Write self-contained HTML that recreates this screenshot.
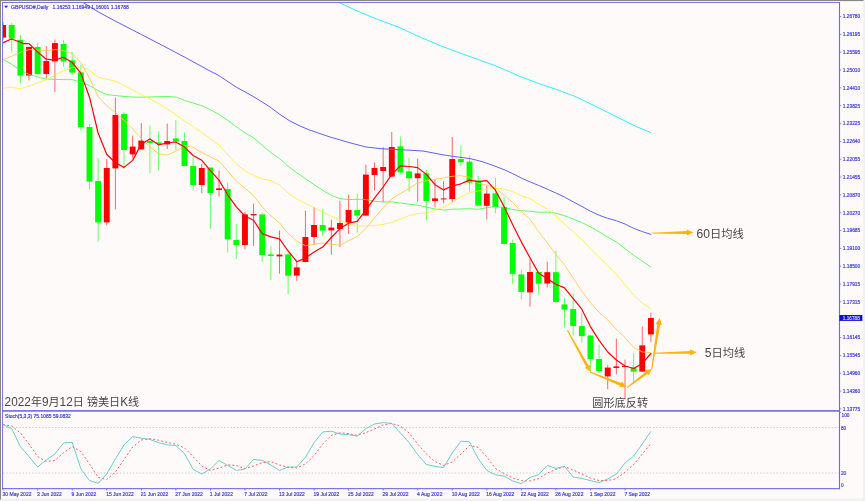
<!DOCTYPE html>
<html lang="zh"><head><meta charset="utf-8"><title>GBPUSD Daily</title>
<style>html,body{margin:0;padding:0;background:#fffafa;overflow:hidden}svg{display:block}text{font-family:"Liberation Sans","Noto Sans CJK SC",sans-serif}.ax{font-size:6px;fill:#3d3ddc;stroke:#3d3ddc;stroke-width:0.22px}.cn{font-size:12px}</style></head><body>
<svg width="865" height="501" viewBox="0 0 865 501">
<rect width="865" height="501" fill="#fffafa"/>
<rect x="0" y="0" width="863.6" height="1.3" fill="#868686"/>
<rect x="0" y="0" width="1.15" height="499.6" fill="#868686"/>
<rect x="1.15" y="498.6" width="864" height="2.4" fill="#f0f0f0"/>
<rect x="863.2" y="1" width="1.8" height="500" fill="#f0f0f0"/>
<rect x="1.15" y="1.3" width="862" height="0.6" fill="#ffffff"/>
<rect x="1.15" y="1.3" width="0.7" height="497.6" fill="#ffffff"/>
<defs><clipPath id="cm"><rect x="3" y="3" width="836" height="407"/></clipPath><clipPath id="cs"><rect x="3" y="412" width="836" height="76"/></clipPath></defs>
<g clip-path="url(#cm)" fill="none" stroke-linejoin="round" stroke-linecap="round">
<line x1="3.10" y1="22.4" x2="3.10" y2="39.5" stroke="#ff0000" stroke-width="0.6"/>
<rect x="0.15" y="25.0" width="5.9" height="12.6" fill="#ff0000"/>
<line x1="11.74" y1="23.0" x2="11.74" y2="52.0" stroke="#00ff00" stroke-width="0.6"/>
<rect x="8.79" y="25.0" width="5.9" height="13.6" fill="#00ff00"/>
<line x1="20.38" y1="35.4" x2="20.38" y2="83.0" stroke="#00ff00" stroke-width="0.6"/>
<rect x="17.43" y="40.0" width="5.9" height="35.6" fill="#00ff00"/>
<line x1="29.01" y1="47.0" x2="29.01" y2="80.0" stroke="#ff0000" stroke-width="0.6"/>
<rect x="26.06" y="47.0" width="5.9" height="28.6" fill="#ff0000"/>
<line x1="37.65" y1="43.0" x2="37.65" y2="74.0" stroke="#00ff00" stroke-width="0.6"/>
<rect x="34.70" y="47.0" width="5.9" height="27.0" fill="#00ff00"/>
<line x1="46.29" y1="46.4" x2="46.29" y2="78.0" stroke="#ff0000" stroke-width="0.6"/>
<rect x="43.34" y="61.0" width="5.9" height="13.0" fill="#ff0000"/>
<line x1="54.92" y1="40.0" x2="54.92" y2="91.6" stroke="#ff0000" stroke-width="0.6"/>
<rect x="51.97" y="43.1" width="5.9" height="18.3" fill="#ff0000"/>
<line x1="63.56" y1="40.4" x2="63.56" y2="66.4" stroke="#00ff00" stroke-width="0.6"/>
<rect x="60.61" y="44.0" width="5.9" height="17.6" fill="#00ff00"/>
<line x1="72.20" y1="52.4" x2="72.20" y2="74.4" stroke="#00ff00" stroke-width="0.6"/>
<rect x="69.25" y="60.4" width="5.9" height="12.2" fill="#00ff00"/>
<line x1="80.84" y1="65.0" x2="80.84" y2="130.4" stroke="#00ff00" stroke-width="0.6"/>
<rect x="77.89" y="72.4" width="5.9" height="54.6" fill="#00ff00"/>
<line x1="89.47" y1="124.4" x2="89.47" y2="189.0" stroke="#00ff00" stroke-width="0.6"/>
<rect x="86.52" y="127.0" width="5.9" height="54.6" fill="#00ff00"/>
<line x1="98.11" y1="158.4" x2="98.11" y2="241.6" stroke="#00ff00" stroke-width="0.6"/>
<rect x="95.16" y="181.0" width="5.9" height="41.4" fill="#00ff00"/>
<line x1="106.75" y1="159.6" x2="106.75" y2="225.0" stroke="#ff0000" stroke-width="0.6"/>
<rect x="103.80" y="168.0" width="5.9" height="54.4" fill="#ff0000"/>
<line x1="115.39" y1="98.0" x2="115.39" y2="209.0" stroke="#ff0000" stroke-width="0.6"/>
<rect x="112.44" y="115.0" width="5.9" height="53.4" fill="#ff0000"/>
<line x1="124.02" y1="112.4" x2="124.02" y2="168.4" stroke="#00ff00" stroke-width="0.6"/>
<rect x="121.07" y="114.0" width="5.9" height="36.0" fill="#00ff00"/>
<line x1="132.66" y1="136.0" x2="132.66" y2="158.0" stroke="#ff0000" stroke-width="0.6"/>
<rect x="129.71" y="146.6" width="5.9" height="7.8" fill="#ff0000"/>
<line x1="141.30" y1="123.4" x2="141.30" y2="149.4" stroke="#ff0000" stroke-width="0.6"/>
<rect x="138.35" y="140.6" width="5.9" height="8.8" fill="#ff0000"/>
<line x1="149.94" y1="126.0" x2="149.94" y2="173.0" stroke="#00ff00" stroke-width="0.6"/>
<rect x="146.99" y="141.0" width="5.9" height="2.0" fill="#00ff00"/>
<line x1="158.57" y1="131.6" x2="158.57" y2="170.0" stroke="#00ff00" stroke-width="0.6"/>
<rect x="155.62" y="142.4" width="5.9" height="1.6" fill="#00ff00"/>
<line x1="167.21" y1="124.0" x2="167.21" y2="148.6" stroke="#ff0000" stroke-width="0.6"/>
<rect x="164.26" y="141.0" width="5.9" height="3.4" fill="#ff0000"/>
<line x1="175.85" y1="120.4" x2="175.85" y2="149.6" stroke="#00ff00" stroke-width="0.6"/>
<rect x="172.90" y="138.4" width="5.9" height="3.2" fill="#00ff00"/>
<line x1="184.49" y1="133.0" x2="184.49" y2="166.0" stroke="#00ff00" stroke-width="0.6"/>
<rect x="181.54" y="141.0" width="5.9" height="25.0" fill="#00ff00"/>
<line x1="193.12" y1="157.0" x2="193.12" y2="189.6" stroke="#00ff00" stroke-width="0.6"/>
<rect x="190.17" y="166.0" width="5.9" height="19.0" fill="#00ff00"/>
<line x1="201.76" y1="164.4" x2="201.76" y2="193.0" stroke="#ff0000" stroke-width="0.6"/>
<rect x="198.81" y="168.0" width="5.9" height="17.0" fill="#ff0000"/>
<line x1="210.40" y1="167.6" x2="210.40" y2="228.4" stroke="#00ff00" stroke-width="0.6"/>
<rect x="207.45" y="167.6" width="5.9" height="25.4" fill="#00ff00"/>
<line x1="219.04" y1="171.0" x2="219.04" y2="196.0" stroke="#ff0000" stroke-width="0.6"/>
<rect x="216.09" y="188.4" width="5.9" height="1.6" fill="#ff0000"/>
<line x1="227.67" y1="183.0" x2="227.67" y2="252.2" stroke="#00ff00" stroke-width="0.6"/>
<rect x="224.72" y="189.0" width="5.9" height="50.4" fill="#00ff00"/>
<line x1="236.31" y1="224.4" x2="236.31" y2="258.6" stroke="#00ff00" stroke-width="0.6"/>
<rect x="233.36" y="240.0" width="5.9" height="5.0" fill="#00ff00"/>
<line x1="244.95" y1="212.0" x2="244.95" y2="249.0" stroke="#ff0000" stroke-width="0.6"/>
<rect x="242.00" y="214.4" width="5.9" height="30.6" fill="#ff0000"/>
<line x1="253.59" y1="204.0" x2="253.59" y2="245.6" stroke="#ff0000" stroke-width="0.6"/>
<rect x="250.64" y="214.0" width="5.9" height="1.4" fill="#ff0000"/>
<line x1="262.23" y1="213.0" x2="262.23" y2="261.6" stroke="#00ff00" stroke-width="0.6"/>
<rect x="259.28" y="214.4" width="5.9" height="40.6" fill="#00ff00"/>
<line x1="270.86" y1="246.6" x2="270.86" y2="279.6" stroke="#00ff00" stroke-width="0.6"/>
<rect x="267.91" y="254.4" width="5.9" height="1.6" fill="#00ff00"/>
<line x1="279.50" y1="231.0" x2="279.50" y2="273.3" stroke="#ff0000" stroke-width="0.6"/>
<rect x="276.55" y="254.6" width="5.9" height="1.8" fill="#ff0000"/>
<line x1="288.14" y1="254.0" x2="288.14" y2="294.0" stroke="#00ff00" stroke-width="0.6"/>
<rect x="285.19" y="254.4" width="5.9" height="21.2" fill="#00ff00"/>
<line x1="296.77" y1="262.0" x2="296.77" y2="280.4" stroke="#ff0000" stroke-width="0.6"/>
<rect x="293.82" y="267.4" width="5.9" height="8.2" fill="#ff0000"/>
<line x1="305.41" y1="211.0" x2="305.41" y2="262.0" stroke="#ff0000" stroke-width="0.6"/>
<rect x="302.46" y="237.0" width="5.9" height="25.0" fill="#ff0000"/>
<line x1="314.05" y1="207.4" x2="314.05" y2="244.4" stroke="#ff0000" stroke-width="0.6"/>
<rect x="311.10" y="225.0" width="5.9" height="12.0" fill="#ff0000"/>
<line x1="322.69" y1="209.6" x2="322.69" y2="236.0" stroke="#00ff00" stroke-width="0.6"/>
<rect x="319.74" y="225.0" width="5.9" height="5.6" fill="#00ff00"/>
<line x1="331.32" y1="220.0" x2="331.32" y2="254.4" stroke="#ff0000" stroke-width="0.6"/>
<rect x="328.38" y="227.6" width="5.9" height="2.8" fill="#ff0000"/>
<line x1="339.96" y1="201.5" x2="339.96" y2="246.6" stroke="#ff0000" stroke-width="0.6"/>
<rect x="337.01" y="223.0" width="5.9" height="6.0" fill="#ff0000"/>
<line x1="348.60" y1="195.0" x2="348.60" y2="233.6" stroke="#ff0000" stroke-width="0.6"/>
<rect x="345.65" y="210.0" width="5.9" height="12.6" fill="#ff0000"/>
<line x1="357.24" y1="194.0" x2="357.24" y2="232.4" stroke="#00ff00" stroke-width="0.6"/>
<rect x="354.29" y="210.0" width="5.9" height="5.6" fill="#00ff00"/>
<line x1="365.88" y1="165.0" x2="365.88" y2="215.6" stroke="#ff0000" stroke-width="0.6"/>
<rect x="362.93" y="174.6" width="5.9" height="41.0" fill="#ff0000"/>
<line x1="374.51" y1="163.0" x2="374.51" y2="190.0" stroke="#ff0000" stroke-width="0.6"/>
<rect x="371.56" y="168.0" width="5.9" height="7.0" fill="#ff0000"/>
<line x1="383.15" y1="147.4" x2="383.15" y2="202.0" stroke="#ff0000" stroke-width="0.6"/>
<rect x="380.20" y="167.0" width="5.9" height="4.0" fill="#ff0000"/>
<line x1="391.79" y1="132.4" x2="391.79" y2="176.6" stroke="#ff0000" stroke-width="0.6"/>
<rect x="388.84" y="147.0" width="5.9" height="29.6" fill="#ff0000"/>
<line x1="400.43" y1="137.0" x2="400.43" y2="174.0" stroke="#00ff00" stroke-width="0.6"/>
<rect x="397.48" y="146.4" width="5.9" height="26.0" fill="#00ff00"/>
<line x1="409.06" y1="158.0" x2="409.06" y2="191.0" stroke="#00ff00" stroke-width="0.6"/>
<rect x="406.11" y="171.4" width="5.9" height="6.8" fill="#00ff00"/>
<line x1="417.70" y1="159.0" x2="417.70" y2="201.4" stroke="#ff0000" stroke-width="0.6"/>
<rect x="414.75" y="173.4" width="5.9" height="4.8" fill="#ff0000"/>
<line x1="426.34" y1="170.0" x2="426.34" y2="220.0" stroke="#00ff00" stroke-width="0.6"/>
<rect x="423.39" y="173.4" width="5.9" height="27.6" fill="#00ff00"/>
<line x1="434.97" y1="180.0" x2="434.97" y2="207.0" stroke="#ff0000" stroke-width="0.6"/>
<rect x="432.02" y="198.4" width="5.9" height="2.6" fill="#ff0000"/>
<line x1="443.61" y1="181.6" x2="443.61" y2="203.0" stroke="#ff0000" stroke-width="0.6"/>
<rect x="440.66" y="198.4" width="5.9" height="1.0" fill="#ff0000"/>
<line x1="452.25" y1="137.4" x2="452.25" y2="202.0" stroke="#ff0000" stroke-width="0.6"/>
<rect x="449.30" y="159.0" width="5.9" height="40.0" fill="#ff0000"/>
<line x1="460.89" y1="146.0" x2="460.89" y2="166.0" stroke="#00ff00" stroke-width="0.6"/>
<rect x="457.94" y="159.0" width="5.9" height="3.2" fill="#00ff00"/>
<line x1="469.52" y1="156.0" x2="469.52" y2="191.0" stroke="#00ff00" stroke-width="0.6"/>
<rect x="466.57" y="161.6" width="5.9" height="21.0" fill="#00ff00"/>
<line x1="478.16" y1="176.4" x2="478.16" y2="205.6" stroke="#00ff00" stroke-width="0.6"/>
<rect x="475.21" y="180.6" width="5.9" height="25.0" fill="#00ff00"/>
<line x1="486.80" y1="186.0" x2="486.80" y2="219.0" stroke="#ff0000" stroke-width="0.6"/>
<rect x="483.85" y="193.6" width="5.9" height="12.2" fill="#ff0000"/>
<line x1="495.44" y1="178.0" x2="495.44" y2="213.0" stroke="#00ff00" stroke-width="0.6"/>
<rect x="492.49" y="193.4" width="5.9" height="13.8" fill="#00ff00"/>
<line x1="504.07" y1="197.6" x2="504.07" y2="245.0" stroke="#00ff00" stroke-width="0.6"/>
<rect x="501.12" y="207.0" width="5.9" height="37.0" fill="#00ff00"/>
<line x1="512.71" y1="240.0" x2="512.71" y2="284.0" stroke="#00ff00" stroke-width="0.6"/>
<rect x="509.76" y="243.0" width="5.9" height="30.8" fill="#00ff00"/>
<line x1="521.35" y1="270.0" x2="521.35" y2="299.0" stroke="#00ff00" stroke-width="0.6"/>
<rect x="518.40" y="274.4" width="5.9" height="17.6" fill="#00ff00"/>
<line x1="529.99" y1="259.0" x2="529.99" y2="306.4" stroke="#ff0000" stroke-width="0.6"/>
<rect x="527.04" y="272.0" width="5.9" height="20.4" fill="#ff0000"/>
<line x1="538.62" y1="272.0" x2="538.62" y2="294.4" stroke="#00ff00" stroke-width="0.6"/>
<rect x="535.67" y="272.0" width="5.9" height="11.5" fill="#00ff00"/>
<line x1="547.26" y1="262.0" x2="547.26" y2="287.0" stroke="#ff0000" stroke-width="0.6"/>
<rect x="544.31" y="272.2" width="5.9" height="11.3" fill="#ff0000"/>
<line x1="555.90" y1="251.0" x2="555.90" y2="302.0" stroke="#00ff00" stroke-width="0.6"/>
<rect x="552.95" y="272.2" width="5.9" height="29.8" fill="#00ff00"/>
<line x1="564.54" y1="298.4" x2="564.54" y2="327.0" stroke="#00ff00" stroke-width="0.6"/>
<rect x="561.59" y="304.4" width="5.9" height="5.2" fill="#00ff00"/>
<line x1="573.17" y1="293.6" x2="573.17" y2="335.0" stroke="#00ff00" stroke-width="0.6"/>
<rect x="570.22" y="309.0" width="5.9" height="17.0" fill="#00ff00"/>
<line x1="581.81" y1="314.0" x2="581.81" y2="342.4" stroke="#00ff00" stroke-width="0.6"/>
<rect x="578.86" y="326.0" width="5.9" height="10.2" fill="#00ff00"/>
<line x1="590.45" y1="335.0" x2="590.45" y2="373.0" stroke="#00ff00" stroke-width="0.6"/>
<rect x="587.50" y="335.5" width="5.9" height="23.5" fill="#00ff00"/>
<line x1="599.09" y1="345.0" x2="599.09" y2="373.0" stroke="#00ff00" stroke-width="0.6"/>
<rect x="596.14" y="359.0" width="5.9" height="12.0" fill="#00ff00"/>
<line x1="607.73" y1="365.6" x2="607.73" y2="389.0" stroke="#ff0000" stroke-width="0.6"/>
<rect x="604.77" y="367.6" width="5.9" height="8.8" fill="#ff0000"/>
<line x1="616.36" y1="339.0" x2="616.36" y2="374.0" stroke="#ff0000" stroke-width="0.6"/>
<rect x="613.41" y="366.4" width="5.9" height="1.6" fill="#ff0000"/>
<line x1="625.00" y1="360.0" x2="625.00" y2="399.0" stroke="#ff0000" stroke-width="0.6"/>
<rect x="622.05" y="366.0" width="5.9" height="1.0" fill="#ff0000"/>
<line x1="633.64" y1="353.3" x2="633.64" y2="383.6" stroke="#00ff00" stroke-width="0.6"/>
<rect x="630.69" y="367.4" width="5.9" height="4.2" fill="#00ff00"/>
<line x1="642.27" y1="327.0" x2="642.27" y2="371.6" stroke="#ff0000" stroke-width="0.6"/>
<rect x="639.32" y="345.4" width="5.9" height="26.2" fill="#ff0000"/>
<line x1="650.91" y1="313.0" x2="650.91" y2="342.0" stroke="#ff0000" stroke-width="0.6"/>
<rect x="647.96" y="318.0" width="5.9" height="16.4" fill="#ff0000"/>
<polyline points="339.0,2.6 356.0,10.4 374.0,18.0 398.0,27.0 420.0,37.0 442.0,46.4 470.0,56.6 495.0,65.6 503.0,69.0 519.0,76.0 539.0,83.6 555.0,89.0 575.0,96.4 595.0,106.0 615.0,116.0 635.0,126.0 650.6,132.4" stroke="#30eeff" stroke-width="1"/>
<polyline points="83.0,2.5 95.0,10.0 104.0,15.0 115.2,21.0 124.0,25.6 132.6,30.0 141.2,34.4 150.0,39.0 170.0,49.4 190.0,60.0 210.0,71.0 218.0,75.0 236.0,87.0 250.0,94.6 259.0,100.0 270.0,107.0 280.0,114.5 290.0,121.0 300.0,126.0 310.0,130.2 330.0,137.0 350.0,142.8 366.0,147.0 382.0,148.8 402.0,149.8 423.0,151.0 444.0,155.0 460.0,157.3 470.0,158.6 480.0,161.0 492.0,165.0 504.0,169.6 512.7,173.6 521.4,178.1 530.0,181.9 538.6,185.4 547.3,189.2 555.9,193.0 564.5,197.1 573.2,201.8 581.8,206.4 590.4,211.2 599.1,215.2 607.7,218.3 616.4,220.7 625.0,224.0 633.6,228.3 642.3,231.6 650.9,234.4" stroke="#6060fa" stroke-width="1"/>
<polyline points="2.4,59.0 11.4,64.0 20.0,70.0 29.0,74.4 37.6,77.0 46.4,79.0 55.0,79.4 63.4,79.6 72.0,79.6 80.8,82.0 89.4,85.6 98.0,90.5 106.6,94.6 115.2,95.5 124.0,96.4 132.6,97.0 141.2,97.2 150.0,97.0 158.6,96.7 167.2,96.5 176.0,97.0 184.6,100.4 193.2,103.0 202.0,105.8 210.6,109.8 219.2,114.5 228.0,120.5 236.6,127.0 245.2,133.0 253.6,137.8 262.2,145.4 270.9,152.7 279.5,158.6 288.1,166.3 296.8,172.7 305.4,178.6 314.1,184.6 322.7,190.3 331.3,195.4 340.0,198.6 348.6,199.6 357.2,199.3 365.9,199.6 374.5,201.3 383.1,201.9 391.8,201.9 400.4,203.0 409.1,204.1 417.7,205.1 426.3,207.1 435.0,209.0 443.6,210.1 452.2,209.2 460.9,209.0 469.5,208.7 478.2,209.3 486.8,207.7 495.4,206.5 504.1,207.5 512.7,209.5 521.4,210.7 530.0,211.2 538.6,212.2 547.3,212.1 555.9,213.2 564.5,215.7 573.2,219.0 581.8,222.5 590.4,226.9 599.1,231.8 607.7,237.1 616.4,242.1 625.0,248.5 633.6,255.3 642.3,261.2 650.9,266.9" stroke="#48fa48" stroke-width="0.85"/>
<polyline points="2.4,88.4 11.4,87.0 20.0,89.0 29.0,86.0 37.6,83.0 46.4,79.6 55.0,75.0 63.4,71.0 72.0,67.4 80.8,67.0 89.4,70.0 98.0,77.2 106.6,79.2 115.2,81.0 124.0,85.3 132.6,90.0 141.2,94.6 150.0,98.7 158.6,103.5 167.2,108.9 175.8,114.7 184.5,121.1 193.1,126.6 201.8,132.6 210.4,138.6 219.0,144.9 227.7,154.7 236.3,163.9 244.9,171.0 253.6,175.3 262.2,179.0 270.9,180.7 279.5,185.0 288.1,193.1 296.8,198.9 305.4,203.4 314.1,207.7 322.7,212.1 331.3,216.2 340.0,220.3 348.6,223.8 357.2,226.2 365.9,225.7 374.5,225.7 383.1,224.4 391.8,222.3 400.4,219.0 409.1,215.7 417.7,213.6 426.3,212.9 435.0,210.1 443.6,207.2 452.2,202.5 460.9,196.8 469.5,192.5 478.2,191.0 486.8,189.4 495.4,188.2 504.1,189.1 512.7,191.6 521.4,195.7 530.0,198.5 538.6,204.0 547.3,209.2 555.9,215.9 564.5,224.1 573.2,231.7 581.8,239.6 590.4,248.9 599.1,257.4 607.7,265.9 616.4,274.3 625.0,284.6 633.6,295.1 642.3,303.2 650.9,308.9" stroke="#fff030" stroke-width="0.85"/>
<polyline points="2.4,60.0 11.4,56.4 20.0,52.4 29.0,49.6 37.6,50.0 46.4,50.6 55.0,49.6 63.4,50.6 72.0,53.6 80.8,62.5 89.5,78.2 98.1,96.6 106.7,105.8 115.4,112.6 124.0,120.2 132.7,128.8 141.3,138.5 149.9,146.7 158.6,153.8 167.2,155.2 175.8,151.2 184.5,145.6 193.1,147.3 201.8,152.6 210.4,156.9 219.0,161.1 227.7,170.9 236.3,181.1 244.9,188.2 253.6,195.5 262.2,206.8 270.9,215.8 279.5,222.8 288.1,233.5 296.8,241.0 305.4,245.8 314.1,244.4 322.7,243.0 331.3,244.3 340.0,245.2 348.6,240.7 357.2,236.6 365.9,228.6 374.5,217.9 383.1,207.8 391.8,198.8 400.4,193.6 409.1,188.3 417.7,182.9 426.3,180.7 435.0,179.6 443.6,177.8 452.2,176.3 460.9,175.7 469.5,177.3 478.2,183.1 486.8,185.2 495.4,188.1 504.1,195.2 512.7,202.5 521.4,211.8 530.0,219.2 538.6,231.7 547.3,242.7 555.9,254.6 564.5,265.0 573.2,278.2 581.8,291.1 590.4,302.6 599.1,312.4 607.7,319.9 616.4,329.4 625.0,337.6 633.6,347.5 642.3,351.9 650.9,352.7" stroke="#ffca40" stroke-width="0.85"/>
<polyline points="2.4,43.0 11.4,39.0 20.0,42.0 23.6,43.6 29.0,43.6 37.6,52.0 46.3,59.2 54.9,60.1 63.6,57.3 72.2,62.5 80.8,73.1 89.5,97.2 98.1,133.0 106.7,154.3 115.4,162.8 124.0,167.4 132.7,160.4 141.3,144.0 149.9,139.0 158.6,144.8 167.2,143.0 175.8,142.0 184.5,147.1 193.1,155.5 201.8,160.3 210.4,170.7 219.0,180.1 227.7,194.8 236.3,206.8 244.9,216.0 253.6,220.2 262.2,233.6 270.9,236.9 279.5,238.8 288.1,251.0 296.8,261.7 305.4,258.1 314.1,251.9 322.7,247.1 331.3,237.5 340.0,228.6 348.6,223.2 357.2,221.4 365.9,210.2 374.5,198.2 383.1,187.0 391.8,174.4 400.4,165.8 409.1,166.5 417.7,167.6 426.3,174.4 435.0,184.7 443.6,189.9 452.2,186.0 460.9,183.8 469.5,180.1 478.2,181.6 486.8,180.6 495.4,190.2 504.1,206.6 512.7,224.8 521.4,242.1 530.0,257.8 538.6,273.1 547.3,278.7 555.9,284.3 564.5,287.9 573.2,298.7 581.8,309.2 590.4,326.6 599.1,340.4 607.7,352.0 616.4,360.0 625.0,366.0 633.6,368.5 642.3,363.4 650.9,353.5" stroke="#ff0000" stroke-width="1.2"/>
</g>
<g fill="none">
<line x1="3" y1="427.5" x2="839" y2="427.5" stroke="#c0c0c0" stroke-width="0.8" stroke-dasharray="1.4,1.85"/>
<line x1="3" y1="473" x2="839" y2="473" stroke="#c0c0c0" stroke-width="0.8" stroke-dasharray="1.4,1.85"/>
</g>
<g clip-path="url(#cs)" fill="none" stroke-linejoin="round">
<polyline points="3.1,424.6 11.7,426.0 20.4,433.0 29.0,444.0 37.6,456.6 46.3,461.4 54.9,460.4 63.6,452.6 72.2,446.6 80.8,451.4 89.5,464.0 98.1,477.4 106.7,479.6 115.4,472.0 124.0,459.4 132.7,447.0 141.3,440.0 149.9,438.6 158.6,440.2 167.2,442.4 175.8,444.2 184.5,448.0 193.1,456.6 201.8,466.0 210.4,470.6 219.0,468.0 227.7,465.0 236.3,465.4 244.9,468.6 253.6,466.0 262.2,462.6 270.9,461.6 279.5,465.0 288.1,467.4 296.8,468.0 305.4,464.0 314.1,455.6 322.7,444.0 331.3,435.4 340.0,432.8 348.6,433.6 357.2,435.4 365.9,432.6 374.5,429.0 383.1,425.0 391.8,423.4 400.4,426.2 409.1,433.0 417.7,444.0 426.3,454.0 435.0,461.6 443.6,465.4 452.2,462.0 460.9,454.0 469.5,445.6 478.2,447.4 486.8,457.0 495.4,468.3 504.1,473.6 512.7,478.0 521.4,480.6 530.0,481.0 538.6,478.6 547.3,473.0 555.9,469.4 564.5,466.6 573.2,470.0 581.8,474.0 590.4,478.0 599.1,480.6 607.7,480.6 616.4,478.6 625.0,472.0 633.6,464.6 642.3,454.0 650.9,443.6" stroke="#ff4545" stroke-width="0.9" stroke-dasharray="1.9,2.2"/>
<polyline points="3.1,424.6 11.7,428.6 20.4,446.6 29.0,456.6 37.6,467.0 46.3,460.0 54.9,454.0 63.6,443.0 72.2,442.2 80.8,468.6 89.5,480.6 98.1,483.4 106.7,474.0 115.4,459.0 124.0,445.0 132.7,436.6 141.3,438.2 149.9,439.4 158.6,442.6 167.2,444.8 175.8,445.6 184.5,453.6 193.1,469.4 201.8,474.0 210.4,469.0 219.0,460.6 227.7,465.4 236.3,470.4 244.9,469.0 253.6,459.4 262.2,460.4 270.9,465.0 279.5,470.4 288.1,467.0 296.8,467.0 305.4,457.4 314.1,442.6 322.7,432.0 331.3,431.2 340.0,434.0 348.6,434.6 357.2,436.2 365.9,428.6 374.5,424.0 383.1,422.6 391.8,423.4 400.4,433.0 409.1,442.6 417.7,454.6 426.3,464.4 435.0,466.4 443.6,467.6 452.2,453.0 460.9,441.2 469.5,441.8 478.2,458.6 486.8,470.4 495.4,474.8 504.1,476.0 512.7,481.0 521.4,483.6 530.0,477.4 538.6,474.6 547.3,465.4 555.9,468.4 564.5,466.4 573.2,477.0 581.8,478.4 590.4,480.6 599.1,482.6 607.7,479.0 616.4,474.0 625.0,463.0 633.6,456.0 642.3,444.0 650.9,431.4" stroke="#50c4bc" stroke-width="0.85"/>
</g>
<g fill="#6a6ae6">
<rect x="2.1" y="2.1" width="837.7" height="0.9"/>
<rect x="2.1" y="2.1" width="0.9" height="487"/>
<rect x="838.95" y="2.1" width="1.1" height="487"/>
<rect x="2.1" y="488.1" width="837.8" height="1.1"/>
<rect x="2.1" y="410.1" width="837.8" height="1.6"/>
</g>
<rect x="839.8" y="16.10" width="1.4" height="0.8" fill="#6a6ae6"/>
<text class="ax" x="842.75" y="18.35" textLength="17.50" lengthAdjust="spacingAndGlyphs" xml:space="preserve">1.26780</text>
<rect x="839.8" y="33.94" width="1.4" height="0.8" fill="#6a6ae6"/>
<text class="ax" x="842.75" y="36.19" textLength="17.50" lengthAdjust="spacingAndGlyphs" xml:space="preserve">1.26195</text>
<rect x="839.8" y="51.77" width="1.4" height="0.8" fill="#6a6ae6"/>
<text class="ax" x="842.75" y="54.02" textLength="17.50" lengthAdjust="spacingAndGlyphs" xml:space="preserve">1.25595</text>
<rect x="839.8" y="69.61" width="1.4" height="0.8" fill="#6a6ae6"/>
<text class="ax" x="842.75" y="71.86" textLength="17.50" lengthAdjust="spacingAndGlyphs" xml:space="preserve">1.25010</text>
<rect x="839.8" y="87.45" width="1.4" height="0.8" fill="#6a6ae6"/>
<text class="ax" x="842.75" y="89.70" textLength="17.50" lengthAdjust="spacingAndGlyphs" xml:space="preserve">1.24410</text>
<rect x="839.8" y="105.28" width="1.4" height="0.8" fill="#6a6ae6"/>
<text class="ax" x="842.75" y="107.53" textLength="17.50" lengthAdjust="spacingAndGlyphs" xml:space="preserve">1.23825</text>
<rect x="839.8" y="123.12" width="1.4" height="0.8" fill="#6a6ae6"/>
<text class="ax" x="842.75" y="125.37" textLength="17.50" lengthAdjust="spacingAndGlyphs" xml:space="preserve">1.23225</text>
<rect x="839.8" y="140.95" width="1.4" height="0.8" fill="#6a6ae6"/>
<text class="ax" x="842.75" y="143.20" textLength="17.50" lengthAdjust="spacingAndGlyphs" xml:space="preserve">1.22640</text>
<rect x="839.8" y="158.79" width="1.4" height="0.8" fill="#6a6ae6"/>
<text class="ax" x="842.75" y="161.04" textLength="17.50" lengthAdjust="spacingAndGlyphs" xml:space="preserve">1.22055</text>
<rect x="839.8" y="176.63" width="1.4" height="0.8" fill="#6a6ae6"/>
<text class="ax" x="842.75" y="178.88" textLength="17.50" lengthAdjust="spacingAndGlyphs" xml:space="preserve">1.21455</text>
<rect x="839.8" y="194.46" width="1.4" height="0.8" fill="#6a6ae6"/>
<text class="ax" x="842.75" y="196.71" textLength="17.50" lengthAdjust="spacingAndGlyphs" xml:space="preserve">1.20870</text>
<rect x="839.8" y="212.30" width="1.4" height="0.8" fill="#6a6ae6"/>
<text class="ax" x="842.75" y="214.55" textLength="17.50" lengthAdjust="spacingAndGlyphs" xml:space="preserve">1.20270</text>
<rect x="839.8" y="230.14" width="1.4" height="0.8" fill="#6a6ae6"/>
<text class="ax" x="842.75" y="232.39" textLength="17.50" lengthAdjust="spacingAndGlyphs" xml:space="preserve">1.19685</text>
<rect x="839.8" y="247.97" width="1.4" height="0.8" fill="#6a6ae6"/>
<text class="ax" x="842.75" y="250.22" textLength="17.50" lengthAdjust="spacingAndGlyphs" xml:space="preserve">1.19100</text>
<rect x="839.8" y="265.81" width="1.4" height="0.8" fill="#6a6ae6"/>
<text class="ax" x="842.75" y="268.06" textLength="17.50" lengthAdjust="spacingAndGlyphs" xml:space="preserve">1.18500</text>
<rect x="839.8" y="283.65" width="1.4" height="0.8" fill="#6a6ae6"/>
<text class="ax" x="842.75" y="285.90" textLength="17.50" lengthAdjust="spacingAndGlyphs" xml:space="preserve">1.17915</text>
<rect x="839.8" y="301.48" width="1.4" height="0.8" fill="#6a6ae6"/>
<text class="ax" x="842.75" y="303.73" textLength="17.50" lengthAdjust="spacingAndGlyphs" xml:space="preserve">1.17315</text>
<rect x="839.8" y="337.15" width="1.4" height="0.8" fill="#6a6ae6"/>
<text class="ax" x="842.75" y="339.40" textLength="17.50" lengthAdjust="spacingAndGlyphs" xml:space="preserve">1.16145</text>
<rect x="839.8" y="354.99" width="1.4" height="0.8" fill="#6a6ae6"/>
<text class="ax" x="842.75" y="357.24" textLength="17.50" lengthAdjust="spacingAndGlyphs" xml:space="preserve">1.15545</text>
<rect x="839.8" y="372.83" width="1.4" height="0.8" fill="#6a6ae6"/>
<text class="ax" x="842.75" y="375.08" textLength="17.50" lengthAdjust="spacingAndGlyphs" xml:space="preserve">1.14960</text>
<rect x="839.8" y="390.66" width="1.4" height="0.8" fill="#6a6ae6"/>
<text class="ax" x="842.75" y="392.91" textLength="17.50" lengthAdjust="spacingAndGlyphs" xml:space="preserve">1.14360</text>
<rect x="839.8" y="408.50" width="1.4" height="0.8" fill="#6a6ae6"/>
<text class="ax" x="842.75" y="410.75" textLength="17.50" lengthAdjust="spacingAndGlyphs" xml:space="preserve">1.13775</text>
<rect x="839.4" y="315.0" width="23.0" height="5.9" fill="#1010d2"/>
<text class="ax" x="842.80" y="320.10" textLength="17.00" lengthAdjust="spacingAndGlyphs" xml:space="preserve" style="fill:#e6e6ff;stroke:#e6e6ff;stroke-width:0.1px">1.16788</text>
<rect x="839.8" y="412.2" width="1.2" height="0.8" fill="#6a6ae6"/>
<text class="ax" x="841.50" y="417.40" textLength="8.00" lengthAdjust="spacingAndGlyphs" xml:space="preserve">100</text>
<text class="ax" x="840.90" y="429.80" textLength="5.30" lengthAdjust="spacingAndGlyphs" xml:space="preserve">80</text>
<text class="ax" x="840.90" y="474.90" textLength="5.30" lengthAdjust="spacingAndGlyphs" xml:space="preserve">20</text>
<text class="ax" x="840.90" y="487.20" textLength="2.60" lengthAdjust="spacingAndGlyphs" xml:space="preserve">0</text>
<rect x="2.65" y="489" width="0.9" height="1.5" fill="#6a6ae6"/>
<text class="ax" x="2.50" y="495.75" textLength="28.98" lengthAdjust="spacingAndGlyphs" xml:space="preserve">30 May 2022</text>
<rect x="37.20" y="489" width="0.9" height="1.5" fill="#6a6ae6"/>
<text class="ax" x="37.05" y="495.75" textLength="24.80" lengthAdjust="spacingAndGlyphs" xml:space="preserve">3 Jun 2022</text>
<rect x="71.75" y="489" width="0.9" height="1.5" fill="#6a6ae6"/>
<text class="ax" x="71.60" y="495.75" textLength="24.80" lengthAdjust="spacingAndGlyphs" xml:space="preserve">9 Jun 2022</text>
<rect x="106.30" y="489" width="0.9" height="1.5" fill="#6a6ae6"/>
<text class="ax" x="106.15" y="495.75" textLength="27.59" lengthAdjust="spacingAndGlyphs" xml:space="preserve">15 Jun 2022</text>
<rect x="140.85" y="489" width="0.9" height="1.5" fill="#6a6ae6"/>
<text class="ax" x="140.70" y="495.75" textLength="27.59" lengthAdjust="spacingAndGlyphs" xml:space="preserve">21 Jun 2022</text>
<rect x="175.40" y="489" width="0.9" height="1.5" fill="#6a6ae6"/>
<text class="ax" x="175.25" y="495.75" textLength="27.59" lengthAdjust="spacingAndGlyphs" xml:space="preserve">27 Jun 2022</text>
<rect x="209.95" y="489" width="0.9" height="1.5" fill="#6a6ae6"/>
<text class="ax" x="209.80" y="495.75" textLength="23.13" lengthAdjust="spacingAndGlyphs" xml:space="preserve">1 Jul 2022</text>
<rect x="244.50" y="489" width="0.9" height="1.5" fill="#6a6ae6"/>
<text class="ax" x="244.35" y="495.75" textLength="23.13" lengthAdjust="spacingAndGlyphs" xml:space="preserve">7 Jul 2022</text>
<rect x="279.05" y="489" width="0.9" height="1.5" fill="#6a6ae6"/>
<text class="ax" x="278.90" y="495.75" textLength="25.91" lengthAdjust="spacingAndGlyphs" xml:space="preserve">13 Jul 2022</text>
<rect x="313.60" y="489" width="0.9" height="1.5" fill="#6a6ae6"/>
<text class="ax" x="313.45" y="495.75" textLength="25.91" lengthAdjust="spacingAndGlyphs" xml:space="preserve">19 Jul 2022</text>
<rect x="348.15" y="489" width="0.9" height="1.5" fill="#6a6ae6"/>
<text class="ax" x="348.00" y="495.75" textLength="25.91" lengthAdjust="spacingAndGlyphs" xml:space="preserve">25 Jul 2022</text>
<rect x="382.70" y="489" width="0.9" height="1.5" fill="#6a6ae6"/>
<text class="ax" x="382.55" y="495.75" textLength="25.91" lengthAdjust="spacingAndGlyphs" xml:space="preserve">29 Jul 2022</text>
<rect x="417.25" y="489" width="0.9" height="1.5" fill="#6a6ae6"/>
<text class="ax" x="417.10" y="495.75" textLength="25.36" lengthAdjust="spacingAndGlyphs" xml:space="preserve">4 Aug 2022</text>
<rect x="451.80" y="489" width="0.9" height="1.5" fill="#6a6ae6"/>
<text class="ax" x="451.65" y="495.75" textLength="28.15" lengthAdjust="spacingAndGlyphs" xml:space="preserve">10 Aug 2022</text>
<rect x="486.35" y="489" width="0.9" height="1.5" fill="#6a6ae6"/>
<text class="ax" x="486.20" y="495.75" textLength="28.15" lengthAdjust="spacingAndGlyphs" xml:space="preserve">16 Aug 2022</text>
<rect x="520.90" y="489" width="0.9" height="1.5" fill="#6a6ae6"/>
<text class="ax" x="520.75" y="495.75" textLength="28.15" lengthAdjust="spacingAndGlyphs" xml:space="preserve">22 Aug 2022</text>
<rect x="555.45" y="489" width="0.9" height="1.5" fill="#6a6ae6"/>
<text class="ax" x="555.30" y="495.75" textLength="28.15" lengthAdjust="spacingAndGlyphs" xml:space="preserve">26 Aug 2022</text>
<rect x="590.00" y="489" width="0.9" height="1.5" fill="#6a6ae6"/>
<text class="ax" x="589.85" y="495.75" textLength="25.64" lengthAdjust="spacingAndGlyphs" xml:space="preserve">1 Sep 2022</text>
<rect x="624.55" y="489" width="0.9" height="1.5" fill="#6a6ae6"/>
<text class="ax" x="624.40" y="495.75" textLength="25.64" lengthAdjust="spacingAndGlyphs" xml:space="preserve">7 Sep 2022</text>
<path d="M4.2 5.7 L8.1 5.7 L6.15 8.1 Z" fill="#1414c8"/>
<text class="ax" x="11.00" y="8.90" textLength="37.40" lengthAdjust="spacingAndGlyphs" xml:space="preserve">GBPUSD#,Daily</text>
<text class="ax" x="52.50" y="8.90" textLength="76.20" lengthAdjust="spacingAndGlyphs" xml:space="preserve">1.16253 1.16949 1.16001 1.16788</text>
<text class="ax" x="5.10" y="418.15" textLength="65.80" lengthAdjust="spacingAndGlyphs" xml:space="preserve">Stoch(5,3,3) 75.1085 59.0832</text>
<polygon points="566.96,330.44 586.22,367.06 584.78,367.86 590.40,371.60 590.20,364.85 588.75,365.65 567.84,329.96" fill="#ffb40a"/>
<polygon points="589.81,372.46 620.03,385.71 619.41,387.24 626.60,386.80 621.74,381.49 621.12,383.02 590.19,371.54" fill="#ffb40a"/>
<polygon points="627.30,388.00 647.56,374.05 648.55,375.37 651.90,369.00 644.84,370.41 645.82,371.73 626.70,387.20" fill="#ffb40a"/>
<polygon points="652.34,369.08 660.19,324.75 661.96,325.03 659.70,318.10 655.44,324.02 657.22,324.29 651.26,368.92" fill="#ffb40a"/>
<polygon points="654.21,353.65 690.03,353.84 690.07,355.54 696.60,352.30 689.94,349.34 689.97,351.04 654.19,352.75" fill="#ffb40a"/>
<polygon points="651.81,233.55 686.82,233.91 686.85,235.61 693.40,232.40 686.75,229.41 686.78,231.11 651.79,232.65" fill="#ffb40a"/>
<text class="cn" x="696.5" y="238.0" textLength="47.3" lengthAdjust="spacingAndGlyphs" xml:space="preserve" fill="#454545">60<tspan font-size="11.2">日均线</tspan></text>
<text class="cn" x="704.7" y="356.7" textLength="40.5" lengthAdjust="spacingAndGlyphs" xml:space="preserve" fill="#454545">5<tspan font-size="11.2">日均线</tspan></text>
<text class="cn" x="592.2" y="406.7" textLength="56.0" lengthAdjust="spacingAndGlyphs" xml:space="preserve" fill="#454545"><tspan font-size="11.2">圆形底反转</tspan></text>
<text class="cn" x="4.6" y="405.9" textLength="134.5" lengthAdjust="spacingAndGlyphs" xml:space="preserve" fill="#454545">2022<tspan font-size="11.2">年</tspan>9<tspan font-size="11.2">月</tspan>12<tspan font-size="11.2">日</tspan> <tspan font-size="11.2">镑美日</tspan>K<tspan font-size="11.2">线</tspan></text>
</svg></body></html>
